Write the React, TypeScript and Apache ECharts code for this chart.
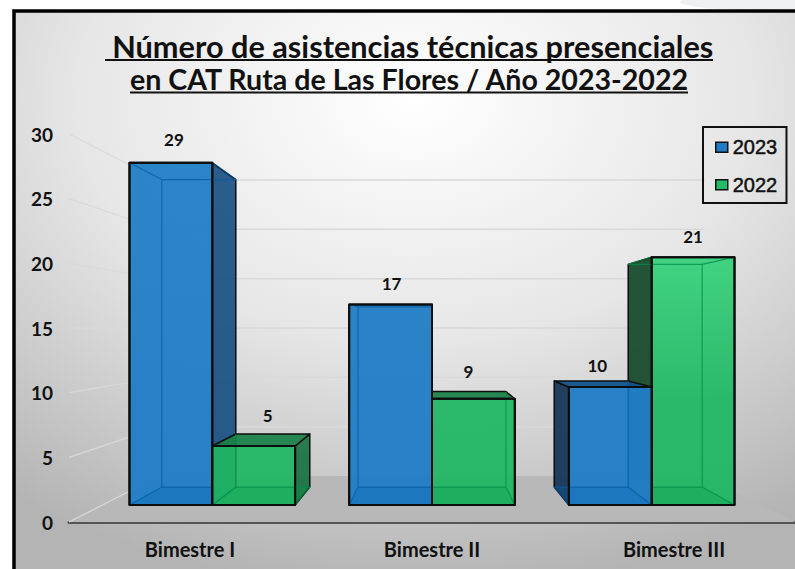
import React, { useEffect, useRef } from "react";
import * as echarts from "echarts";

const categories = ["Bimestre I", "Bimestre II", "Bimestre III"];
const values2023 = [29, 17, 10];
const values2022 = [5, 9, 21];
const yTicks = [0, 5, 10, 15, 20, 25, 30];
const titleLine1 = "\u00A0Número de asistencias técnicas presenciales";
const titleLine2 = "en CAT Ruta de Las Flores / Año 2023-2022";

// perspective of the box: depth 0 = axis plane, depth 1 = back wall
const FLOOR_DROP = 46;
const X_SHRINK = 0.249;
const Y_SHRINK = 0.237;
const BOX_FRONT = 0.37;
const BOX_BACK = 0.76;
const BAR_SHARE = 0.377;
const LABEL_FONT = "700 17px Lato";

const NUDGE_2023 = [[3, -2], [1, 0], [-13, 5]];
const NUDGE_2022 = [[14, 2], [-5, 1], [0, 0]];

const BLUE = {
  legend: "#1F7CC4",
  front: "rgba(33,126,197,0.96)",
  frontTop: "rgba(36,128,199,0.96)",
  side: "rgba(20,76,128,0.9)",
  sideFar: "rgba(20,50,85,0.92)",
  top: "rgba(18,84,140,0.95)",
  floor: "rgba(0,96,176,0.28)",
  inner: "rgba(8,92,160,0.75)",
};
const GREEN = {
  legend: "#24BA68",
  front: "rgba(30,182,98,0.92)",
  frontTop: "rgba(58,210,126,0.96)",
  side: "rgba(20,112,60,0.9)",
  sideFar: "rgba(18,72,40,0.92)",
  top: "rgba(24,128,70,0.92)",
  floor: "rgba(0,150,70,0.25)",
  inner: "rgba(0,140,70,0.75)",
};

function makeBoxSeries(name: string, values: number[], palette: typeof BLUE, firstOfPair: boolean, nudge: number[][]) {
  return {
    type: "custom",
    name,
    itemStyle: { color: palette.legend },
    encode: { x: 0, y: 1 },
    data: values.map((v, i) => [i, v]),
    renderItem: (params: any, api: any) => {
      const cat = api.value(0);
      const val = api.value(1);
      const base = api.coord([cat, 0]);
      const top = api.coord([cat, val]);
      const band = api.size([1, 0])[0];
      const cs = params.coordSys;
      const cx = cs.x + cs.width / 2;
      const w = band * BAR_SHARE;
      const xa = firstOfPair ? base[0] - w : base[0];
      const xb = firstOfPair ? base[0] : base[0] + w;
      const h = base[1] - top[1];
      const p = (x: number, height: number, t: number) => [
        cx + (x - cx) * (1 - X_SHRINK * t),
        base[1] - FLOOR_DROP * t - height * (1 - Y_SHRINK * t),
      ];
      const fbl = p(xa, 0, BOX_FRONT), fbr = p(xb, 0, BOX_FRONT), ftl = p(xa, h, BOX_FRONT), ftr = p(xb, h, BOX_FRONT);
      const bbl = p(xa, 0, BOX_BACK), bbr = p(xb, 0, BOX_BACK), btl = p(xa, h, BOX_BACK), btr = p(xb, h, BOX_BACK);
      const mid = (xa + xb) / 2;
      const order = Math.round((400 - Math.abs(mid - cx)) * 10) * 100;
      const black = "#0d0d0d";
      let z = order;
      const poly = (pts: number[][], fill: string | object, stroke: string, lw: number) => ({
        type: "polygon",
        z2: z++,
        shape: { points: pts },
        style: { fill, stroke, lineWidth: lw, lineJoin: "round" },
        silent: true,
      });
      const seg = (a: number[], b: number[], stroke: string, lw: number) => ({
        type: "line",
        z2: z++,
        shape: { x1: a[0], y1: a[1], x2: b[0], y2: b[1] },
        style: { stroke, lineWidth: lw, fill: "none" },
        silent: true,
      });
      const rightVisible = btr[0] > ftr[0] + 0.5;
      const leftVisible = btl[0] < ftl[0] - 0.5;
      const topVisible = btl[1] < ftl[1];
      const sideDark = leftVisible ? palette.sideFar : palette.side;
      const frontFill = {
        type: "linear", x: 0, y: 257, x2: 0, y2: 400, global: true,
        colorStops: [{ offset: 0, color: palette.frontTop }, { offset: 1, color: palette.front }],
      };
      const children: any[] = [];
      if (rightVisible) children.push(poly([ftr, btr, bbr, fbr], sideDark, black, 1.5));
      if (leftVisible) children.push(poly([ftl, btl, bbl, fbl], sideDark, black, 1.5));
      if (topVisible) children.push(poly([ftl, ftr, btr, btl], palette.top, black, 1.5));
      children.push(poly([fbl, fbr, ftr, ftl], frontFill, black, 2));
      children.push(poly([fbl, fbr, bbr, bbl], palette.floor, "transparent", 0));
      // inner edges seen through the translucent front
      if (!topVisible) {
        children.push(seg(ftl, btl, palette.inner, 1.2));
        children.push(seg(btl, btr, palette.inner, 1.2));
        children.push(seg(ftr, btr, palette.inner, 1.2));
      }
      if (!leftVisible) children.push(seg(btl, bbl, palette.inner, 1.2));
      if (!rightVisible) children.push(seg(btr, bbr, palette.inner, 1.2));
      children.push(seg(bbl, bbr, palette.inner, 1.2));
      children.push(seg(fbl, bbl, palette.inner, 1.2));
      children.push(seg(fbr, bbr, palette.inner, 1.2));
      children.push(poly([fbl, fbr, ftr, ftl], "transparent", black, 2));
      const n = nudge[cat];
      children.push({
        type: "text",
        z2: 9000000,
        x: (ftl[0] + ftr[0]) / 2 + n[0],
        y: Math.min(ftl[1], btl[1]) - 21 + n[1],
        style: { text: String(val), fill: "#111", font: LABEL_FONT, align: "center", verticalAlign: "middle" },
        silent: true,
      });
      return { type: "group", children };
    },
  };
}

const roomSeries = {
  type: "custom",
  name: "room",
  z: 1,
  silent: true,
  encode: { x: 0, y: 1 },
  data: yTicks.map((v) => [0, v]),
  renderItem: (params: any, api: any) => {
    const v = api.value(1);
    const cs = params.coordSys;
    const cx = cs.x + cs.width / 2;
    const y0 = api.coord([0, 0])[1];
    const y = api.coord([0, v])[1];
    const backX = (x: number) => cx + (x - cx) * (1 - X_SHRINK);
    const backY = y0 - FLOOR_DROP - (y0 - y) * (1 - Y_SHRINK);
    const left = cs.x;
    const right = cs.x + cs.width;
    const wall = "#d9d9d9";
    const children: any[] = [];
    if (v === 0) {
      children.push({
        type: "polygon",
        shape: { points: [[left, y0], [right, y0], [backX(right), backY], [backX(left), backY]] },
        style: { fill: "#B8B8B8" },
      });
    } else {
      children.push({
        type: "line",
        shape: { x1: backX(left), y1: backY, x2: backX(right), y2: backY },
        style: { stroke: wall, lineWidth: 1.5 },
      });
    }
    children.push({
      type: "line",
      shape: { x1: left, y1: y, x2: backX(left), y2: backY },
      style: { stroke: wall, lineWidth: 1.2 },
    });
    return { type: "group", children };
  },
};

export default function App() {
  const ref = useRef<HTMLDivElement>(null);
  useEffect(() => {
    document.body.style.margin = "0";
    const chart = echarts.init(ref.current!, undefined, { renderer: "svg" });
    chart.setOption({
      animation: false,
      backgroundColor: "#fff",
      title: [
        {
          text: titleLine1,
          left: 409,
          top: 30,
          padding: 0,
          textAlign: "center",
          textStyle: { fontFamily: "Lato", fontWeight: 700, fontSize: 30.7, lineHeight: 32, color: "#111" },
        },
        {
          text: titleLine2,
          left: 409,
          top: 63,
          padding: 0,
          textAlign: "center",
          textStyle: { fontFamily: "Lato", fontWeight: 700, fontSize: 28.6, lineHeight: 32, color: "#111" },
        },
      ],
      legend: {
        left: 703,
        top: 127,
        orient: "vertical",
        data: ["2023", "2022"],
        icon: "rect",
        selectedMode: false,
        itemWidth: 12,
        itemHeight: 10,
        itemGap: 17,
        padding: [10, 9, 8, 12],
        borderColor: "#111",
        borderWidth: 2,
        itemStyle: { borderColor: "#111", borderWidth: 1.5 },
        textStyle: { fontFamily: "Liberation Sans", fontSize: 20, color: "#111", textBorderColor: "#111", textBorderWidth: 0.5 },
      },
      grid: { left: 69, right: 0, top: 134, bottom: 47 },
      xAxis: {
        type: "category",
        data: categories,
        axisLine: { lineStyle: { color: "#555", width: 3 } },
        axisTick: { show: false },
        axisLabel: { margin: 17, fontFamily: "Lato", fontWeight: 700, fontSize: 20, color: "#111" },
      },
      yAxis: {
        type: "value",
        min: 0,
        max: 30,
        interval: 5,
        axisLine: { show: false },
        axisTick: { show: false },
        splitLine: { show: false },
        axisLabel: { margin: 16, fontFamily: "Lato", fontWeight: 700, fontSize: 19, color: "#111" },
      },
      graphic: [
        {
          type: "ellipse",
          z: -20,
          silent: true,
          shape: { cx: 760, cy: 2, rx: 80, ry: 8 },
          style: { fill: "#eef0f3" },
        },
        {
          type: "rect",
          z: -10,
          silent: true,
          shape: { x: 14, y: 11, width: 800, height: 580 },
          style: {
            fill: new echarts.graphic.RadialGradient(0.5, 0.15, 0.85, [
              { offset: 0, color: "#ffffff" },
              { offset: 0.5, color: "#e6e6e6" },
              { offset: 1, color: "#b4b4b4" },
            ]),
            stroke: "#000",
            lineWidth: 3.5,
          },
        },
        { type: "line", z: 10, silent: true, shape: { x1: 105, y1: 60, x2: 713, y2: 60 }, style: { stroke: "#111", lineWidth: 2 } },
        { type: "line", z: 10, silent: true, shape: { x1: 130, y1: 92.5, x2: 688, y2: 92.5 }, style: { stroke: "#111", lineWidth: 2 } },
      ],
      series: [
        roomSeries,
        { ...makeBoxSeries("2023", values2023, BLUE, true, NUDGE_2023), z: 3 },
        { ...makeBoxSeries("2022", values2022, GREEN, false, NUDGE_2022), z: 3 },
      ],
    });
    return () => chart.dispose();
  }, []);
  return <div ref={ref} style={{ position: "absolute", left: 0, top: 0, width: 795, height: 569, overflow: "hidden" }} />;
}
